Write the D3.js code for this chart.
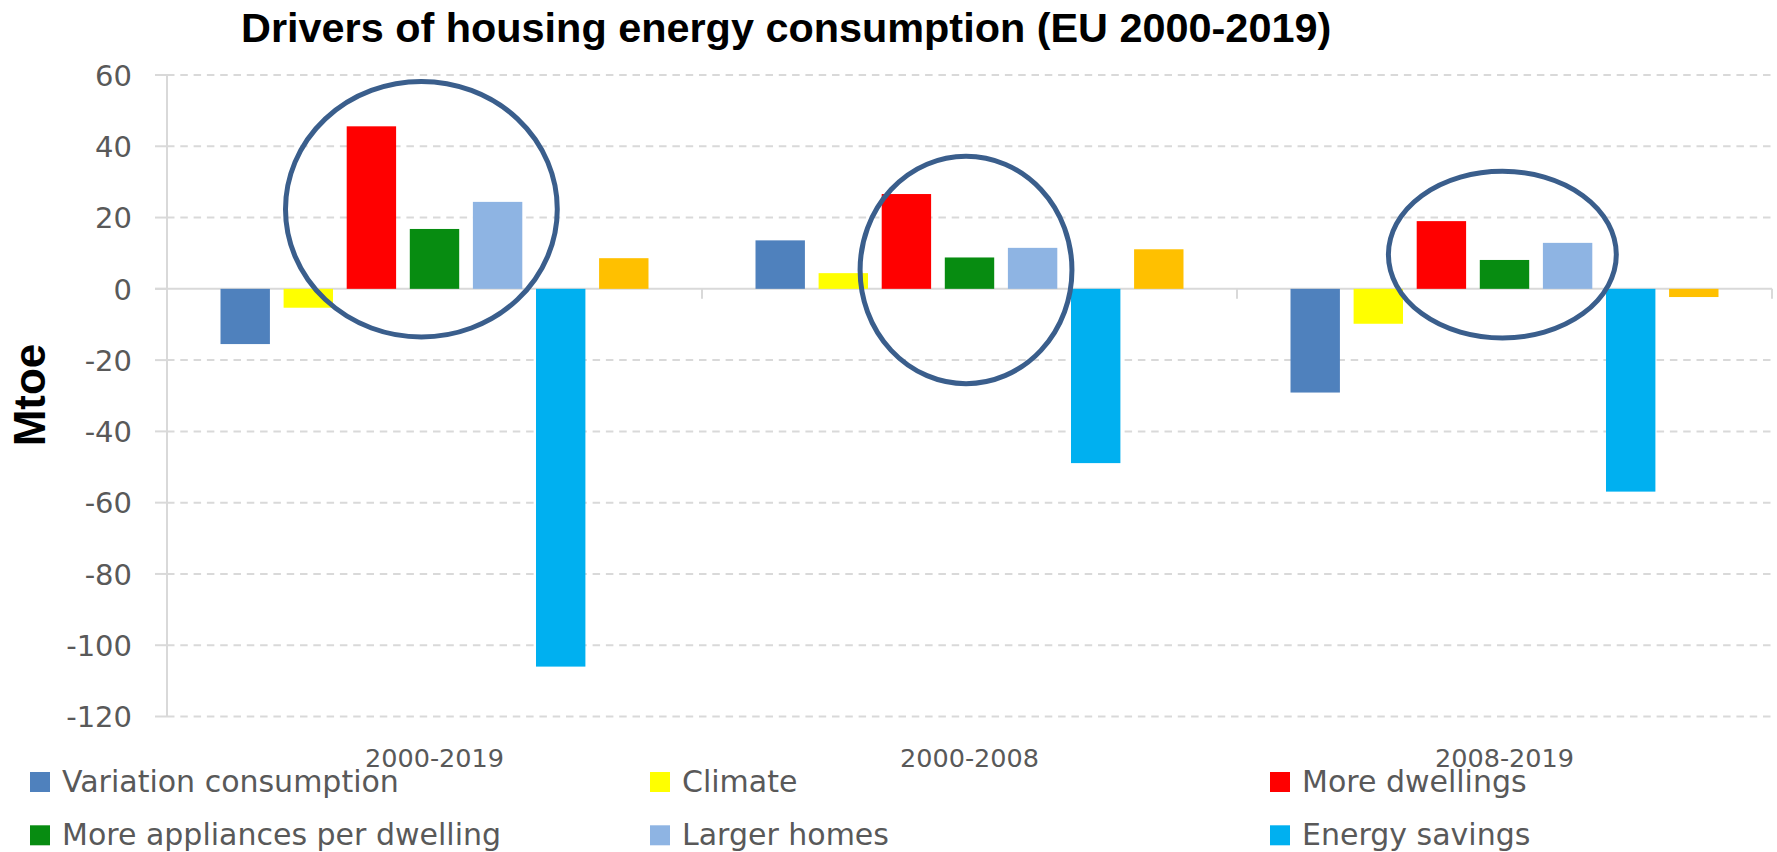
<!DOCTYPE html>
<html>
<head>
<meta charset="utf-8">
<script src="https://cdn.jsdelivr.net/npm/d3@7/dist/d3.min.js"></script>
<style>
  html, body { margin: 0; padding: 0; background: #ffffff; }
  svg { display: block; }
</style>
</head>
<body>
<svg id="chart" width="1777" height="852"></svg>
<script>
// ---------------- DATA ----------------
const categories = ["2000-2019", "2000-2008", "2008-2019"];
const seriesNames = [
  "Variation consumption",
  "Climate",
  "More dwellings",
  "More appliances per dwelling",
  "Larger homes",
  "Energy savings",
  "Other"            // 7th series: its legend entry is cut off in the original
];
const variationConsumption = [-15.5, 13.6, -29.1];
const climate              = [-5.3, 4.4, -9.8];
const moreDwellings        = [45.6, 26.6, 19.0];
const moreAppliances       = [16.8, 8.8, 8.1];
const largerHomes          = [24.4, 11.5, 12.9];
const energySavings        = [-106.0, -48.9, -56.9];
const other                = [8.6, 11.1, -2.3];
const yTickValues = [60, 40, 20, 0, -20, -40, -60, -80, -100, -120];
const visibleLegendCount = 6;

// highlight ellipses (annotation), in data terms: category, centre within band (fraction),
// half-width (fraction of band), top and bottom value
const highlights = [
  { category: "2000-2019", centerFrac: 0.4755, halfWidthFrac: 0.254, top: 58.2, bottom: -13.5 },
  { category: "2000-2008", centerFrac: 0.4935, halfWidthFrac: 0.198, top: 37.2, bottom: -26.6 },
  { category: "2008-2019", centerFrac: 0.496,  halfWidthFrac: 0.213, top: 33.0, bottom: -13.8 }
];

const seriesValues = [variationConsumption, climate, moreDwellings, moreAppliances, largerHomes, energySavings, other];
const colors = ["#4F81BD", "#FFFF00", "#FF0000", "#078C11", "#8EB4E3", "#00B0F0", "#FFC000"];

// ---------------- LAYOUT ----------------
const svg = d3.select("#chart");
const plotLeft = 167, plotRight = 1772, plotTop = 75, plotBottom = 716.5;
const axisColor = "#d9d9d9";
const textColor = "#595959";

const x0 = d3.scaleBand().domain(categories).range([plotLeft, plotRight]).paddingInner(0).paddingOuter(0);
const x1 = d3.scaleBand().domain(seriesNames).range([0, x0.bandwidth()]).paddingInner(0.217).paddingOuter(0.848);
const y = d3.scaleLinear().domain([-120, 60]).range([plotBottom, plotTop]);
const color = d3.scaleOrdinal().domain(seriesNames).range(colors);

// gridlines (dashed)
const grid = svg.append("g");
grid.selectAll("line.grid")
  .data(yTickValues.filter(v => v !== 0))
  .join("line")
  .attr("class", "grid")
  .attr("x1", plotLeft).attr("x2", plotRight)
  .attr("y1", d => y(d)).attr("y2", d => y(d))
  .attr("stroke", axisColor).attr("stroke-width", 2)
  .attr("stroke-dasharray", "7.5,5.8");
// small tick marks to the left of the y axis
grid.selectAll("line.ytick")
  .data(yTickValues)
  .join("line")
  .attr("class", "ytick")
  .attr("x1", plotLeft - 12).attr("x2", plotLeft)
  .attr("y1", d => y(d)).attr("y2", d => y(d))
  .attr("stroke", axisColor).attr("stroke-width", 2);

// y axis line
svg.append("line")
  .attr("x1", plotLeft).attr("x2", plotLeft)
  .attr("y1", y(60)).attr("y2", y(-120))
  .attr("stroke", axisColor).attr("stroke-width", 2);

// zero (category) axis
svg.append("line")
  .attr("x1", plotLeft - 12).attr("x2", plotRight)
  .attr("y1", y(0)).attr("y2", y(0))
  .attr("stroke", axisColor).attr("stroke-width", 2);
// category boundary ticks
const boundaries = categories.map(c => x0(c)).concat([x0(categories[categories.length - 1]) + x0.bandwidth()]);
svg.selectAll("line.ctick")
  .data(boundaries.slice(1))
  .join("line")
  .attr("class", "ctick")
  .attr("x1", d => d).attr("x2", d => d)
  .attr("y1", y(0)).attr("y2", y(0) + 10)
  .attr("stroke", axisColor).attr("stroke-width", 2);

// y tick labels
svg.selectAll("text.ylab")
  .data(yTickValues)
  .join("text")
  .attr("class", "ylab")
  .attr("x", 132)
  .attr("y", d => y(d) + 10.8)
  .attr("text-anchor", "end")
  .attr("font-family", "'DejaVu Sans', sans-serif")
  .attr("font-size", 29)
  .attr("fill", textColor)
  .text(d => d);

// bars
const groups = svg.append("g").selectAll("g")
  .data(categories)
  .join("g")
  .attr("transform", c => `translate(${x0(c)},0)`);
groups.selectAll("rect")
  .data((c, ci) => seriesNames.map((s, si) => ({ series: s, value: seriesValues[si][ci] })))
  .join("rect")
  .attr("x", d => x1(d.series))
  .attr("width", x1.bandwidth())
  .attr("y", d => y(Math.max(0, d.value)))
  .attr("height", d => Math.abs(y(d.value) - y(0)))
  .attr("fill", d => color(d.series));

// highlight ellipses
svg.selectAll("ellipse.hl")
  .data(highlights)
  .join("ellipse")
  .attr("class", "hl")
  .attr("cx", d => x0(d.category) + d.centerFrac * x0.bandwidth())
  .attr("cy", d => (y(d.top) + y(d.bottom)) / 2)
  .attr("rx", d => d.halfWidthFrac * x0.bandwidth())
  .attr("ry", d => (y(d.bottom) - y(d.top)) / 2)
  .attr("fill", "none")
  .attr("stroke", "#3A5E8C")
  .attr("stroke-width", 5);

// category labels
svg.selectAll("text.clab")
  .data(categories)
  .join("text")
  .attr("class", "clab")
  .attr("x", c => x0(c) + x0.bandwidth() / 2)
  .attr("y", 767)
  .attr("text-anchor", "middle")
  .attr("font-family", "'DejaVu Sans', sans-serif")
  .attr("font-size", 25.5)
  .attr("fill", textColor)
  .text(c => c);

// legend
const legend = svg.append("g").selectAll("g")
  .data(seriesNames.slice(0, visibleLegendCount))
  .join("g")
  .attr("transform", (s, i) => `translate(${30 + (i % 3) * 620},${772 + Math.floor(i / 3) * 53.3})`);
legend.append("rect")
  .attr("width", 20).attr("height", 20)
  .attr("fill", s => color(s));
legend.append("text")
  .attr("x", 32).attr("y", 19.5)
  .attr("font-family", "'DejaVu Sans', sans-serif")
  .attr("font-size", 30)
  .attr("fill", textColor)
  .text(s => s);

// title
svg.append("text")
  .attr("x", 241).attr("y", 42)
  .attr("font-family", "'Liberation Sans', Arial, sans-serif")
  .attr("font-weight", "bold")
  .attr("font-size", 41.4)
  .attr("fill", "#000")
  .text("Drivers of housing energy consumption (EU 2000-2019)");

// y axis title
svg.append("text")
  .attr("transform", "translate(44.5,395) rotate(-90)")
  .attr("text-anchor", "middle")
  .attr("font-family", "'Liberation Sans', Arial, sans-serif")
  .attr("font-weight", "bold")
  .attr("font-size", 44)
  .attr("fill", "#000")
  .text("Mtoe");
</script>
</body>
</html>
